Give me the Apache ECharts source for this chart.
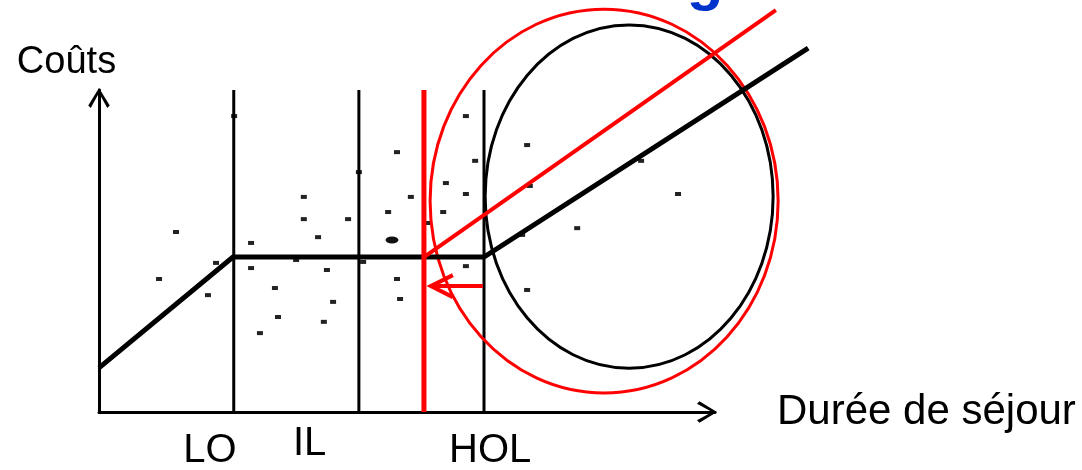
<!DOCTYPE html>
<html>
<head>
<meta charset="utf-8">
<script src="https://cdn.jsdelivr.net/npm/echarts@6/dist/echarts.min.js"></script>
<style>
  html, body { margin: 0; padding: 0; background: #fff; }
  #chart { width: 1082px; height: 470px; }
</style>
</head>
<body>
<div id="chart"></div>
<script>
// axes: durée de séjour 0..16, coûts 0..10
const xMax = 16;
const yMax = 10;

// bornes LO / IL / HOL et le seuil décalé (rouge)
const bounds = [3.5, 6.75, 10];
const shiftedBound = [8.44];

// courbe de coûts (noire) et nouvelle pente (rouge)
const costCurve = [[0, 1.37], [3.48, 4.81], [10, 4.81], [18.42, 11.3]];
const redCurve = [[8.44, 4.81], [17.58, 12.48]];

// flèche de décalage du seuil (départ, pointe)
const shiftArrow = [[9.97, 3.91], [8.62, 3.91]];

// ellipses [cx, cy, rx, ry]
const blackEllipse = [[13.77, 6.69, 3.74, 5.33]];
const redEllipse = [[13.12, 6.55, 4.52, 5.96]];

// nuage de points (séjours)
const stays = [
  [3.51, 9.19], [7.74, 8.07], [6.75, 7.45], [5.32, 6.68], [8.10, 6.68],
  [9.53, 9.19], [9.77, 7.80], [9.01, 7.11], [9.53, 6.77], [8.94, 6.21],
  [7.51, 6.21], [5.32, 5.99], [6.47, 5.99], [8.52, 5.87], [5.69, 5.43],
  [2.00, 5.59], [3.95, 5.25], [3.04, 4.63], [5.12, 4.72], [6.86, 4.66],
  [3.95, 4.47], [5.92, 4.41], [9.53, 4.53], [1.56, 4.13], [7.74, 4.13],
  [4.57, 3.85], [2.83, 3.63], [6.08, 3.42], [7.82, 3.51], [4.65, 2.95],
  [5.84, 2.80], [4.18, 2.45], [11.12, 8.29], [11.19, 7.02], [14.08, 7.80],
  [15.04, 6.77], [16.26, 10.56], [12.42, 5.71], [10.99, 5.50], [16.47, 5.03],
  [11.12, 3.79]
];
const bigStay = [[7.61, 5.34]];

// étiquettes sous l'axe
const labelNames = ["LO", "IL", "HOL"];
const labelPos = [[2.88, -1.21], [5.47, -1.0], [10.16, -1.21]];

const FONT = '"Liberation Sans", Arial, sans-serif';
const chevron = "path://M11,0 L22,18 L19.5,20.5 L11,5 L2.5,20.5 L0,18 Z";

var myChart = echarts.init(document.getElementById("chart"));

function ellipseItem(color) {
  return function (params, api) {
    const c = api.coord([api.value(0), api.value(1)]);
    const s = api.size([api.value(2), api.value(3)]);
    return {
      type: "ellipse",
      shape: { cx: c[0], cy: c[1], rx: s[0], ry: s[1] },
      style: { fill: "none", stroke: color, lineWidth: 3 }
    };
  };
}

// une polyligne sur toute la série (rendue au premier point)
function polylineItem(points, color, width) {
  return function (params, api) {
    if (params.dataIndex !== 0) return null;
    return {
      type: "polyline",
      shape: { points: points.map((p) => api.coord(p)) },
      style: { fill: "none", stroke: color, lineWidth: width, lineJoin: "miter" }
    };
  };
}

function verticalItem(color, width) {
  return function (params, api) {
    const a = api.coord([api.value(0), 0]);
    const b = api.coord([api.value(0), yMax]);
    return {
      type: "line",
      shape: { x1: a[0], y1: a[1], x2: b[0], y2: b[1] },
      style: { stroke: color, lineWidth: width }
    };
  };
}

const axisCommon = {
  type: "value",
  axisLine: {
    show: true,
    onZero: true,
    symbol: ["none", chevron],
    symbolSize: [22, 20],
    symbolOffset: [0, -8],
    lineStyle: { color: "#000", width: 3 }
  },
  axisTick: { show: false },
  axisLabel: { show: false },
  splitLine: { show: false }
};

const option = {
  animation: false,
  backgroundColor: "#fff",
  graphic: [
    {
      type: "text",
      x: 120,
      y: -18,
      style: {
        text: "Coût des cas de longue durée",
        font: "bold 60px " + FONT,
        fill: "#0033cc",
        align: "left",
        verticalAlign: "middle"
      }
    }
  ],
  grid: { left: 99, top: 90, width: 616, height: 322 },
  xAxis: Object.assign({}, axisCommon, {
    min: 0,
    max: xMax,
    name: "Durée de séjour",
    nameLocation: "end",
    nameGap: 62,
    nameTextStyle: { fontFamily: FONT, fontSize: 42, color: "#000" }
  }),
  yAxis: Object.assign({}, axisCommon, {
    min: 0,
    max: yMax,
    name: "Coûts",
    nameLocation: "end",
    nameGap: 8,
    nameTextStyle: {
      fontFamily: FONT,
      fontSize: 38,
      color: "#000",
      padding: [0, 65, 0, 0]
    }
  }),
  series: [
    {
      type: "custom",
      data: bounds.map((b) => [b]),
      renderItem: verticalItem("#000", 3),
      z: 2
    },
    {
      type: "scatter",
      data: stays,
      symbol: "rect",
      symbolSize: [6, 4],
      itemStyle: { color: "#222", opacity: 1 },
      z: 1
    },
    {
      type: "scatter",
      data: bigStay,
      symbol: "circle",
      symbolSize: [13, 7],
      itemStyle: { color: "#111", opacity: 1 },
      z: 1
    },
    {
      type: "custom",
      data: blackEllipse,
      renderItem: ellipseItem("#000"),
      z: 3
    },
    {
      type: "custom",
      data: redEllipse,
      renderItem: ellipseItem("#ff0000"),
      z: 3
    },
    {
      type: "custom",
      data: costCurve,
      renderItem: polylineItem(costCurve, "#000", 5),
      z: 4
    },
    {
      type: "custom",
      data: shiftedBound.map((b) => [b]),
      renderItem: verticalItem("#ff0000", 5),
      z: 5
    },
    {
      type: "custom",
      data: redCurve,
      renderItem: polylineItem(redCurve, "#ff0000", 4),
      z: 5
    },
    {
      type: "custom",
      data: shiftArrow,
      renderItem: function (params, api) {
        if (params.dataIndex !== 0) return null;
        const a = api.coord(shiftArrow[0]);
        const t = api.coord(shiftArrow[1]);
        return {
          type: "group",
          children: [
            {
              type: "line",
              shape: { x1: a[0], y1: a[1], x2: t[0] + 2, y2: t[1] },
              style: { stroke: "#ff0000", lineWidth: 4 }
            },
            {
              type: "polyline",
              shape: {
                points: [[t[0] + 22, t[1] - 11], [t[0], t[1]], [t[0] + 22, t[1] + 11]]
              },
              style: { fill: "none", stroke: "#ff0000", lineWidth: 4, lineJoin: "miter" }
            }
          ]
        };
      },
      z: 5
    },
    {
      type: "custom",
      data: labelPos,
      renderItem: function (params, api) {
        const c = api.coord([api.value(0), api.value(1)]);
        return {
          type: "text",
          x: c[0],
          y: c[1],
          style: {
            text: labelNames[params.dataIndex],
            font: "40px " + FONT,
            fill: "#000",
            align: "center",
            verticalAlign: "middle"
          }
        };
      },
      z: 6
    }
  ]
};

myChart.setOption(option);
</script>
</body>
</html>
